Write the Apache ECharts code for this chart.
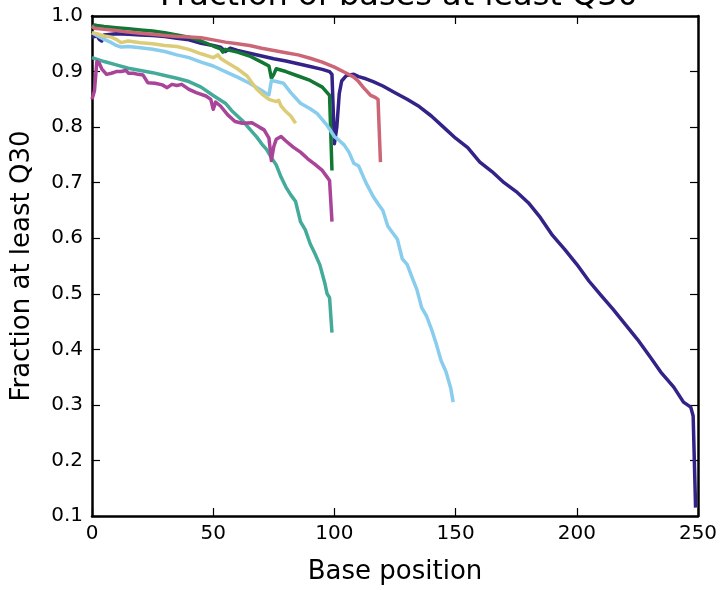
<!DOCTYPE html>
<html>
<head>
<meta charset="utf-8">
<script src="https://cdn.jsdelivr.net/npm/echarts@6/dist/echarts.min.js"></script>
<style>html,body{margin:0;padding:0;background:#fff}#c{width:722px;height:590px}</style>
</head>
<body>
<div id="c"></div>
<script>
const titleText = "Fraction of bases at least Q30";
const xName = "Base position";
const yName = "Fraction at least Q30";
const xTicks = [0, 50, 100, 150, 200, 250];
const yTicks = [0.1, 0.2, 0.3, 0.4, 0.5, 0.6, 0.7, 0.8, 0.9, 1.0];

const indigoX = [0,1,2,3,4,5,10,15,20,25,30,35,40,45,50,53,55,57,60,65,70,75,80,85,90,95,98,99,100,101,102,103,105,108,110,113,116,120,125,130,135,140,145,150,155,160,165,170,175,180,185,190,195,200,205,210,215,220,225,230,235,240,244,247,248,249];
const indigoY = [0.962,0.963,0.965,0.958,0.955,0.966,0.968,0.967,0.966,0.965,0.963,0.96,0.957,0.951,0.947,0.944,0.936,0.942,0.938,0.933,0.928,0.923,0.919,0.914,0.909,0.904,0.9,0.895,0.77,0.8,0.86,0.883,0.893,0.895,0.891,0.887,0.882,0.874,0.862,0.85,0.837,0.82,0.8,0.78,0.763,0.737,0.72,0.7,0.684,0.664,0.637,0.605,0.58,0.553,0.523,0.497,0.472,0.445,0.418,0.388,0.357,0.332,0.305,0.296,0.28,0.115];

const greenX = [0,1,2,5,10,15,20,25,30,35,40,45,50,53,54,55,60,65,70,73,74,75,76,80,85,90,95,97,98,99];
const greenY = [0.978,0.984,0.983,0.981,0.979,0.977,0.975,0.973,0.97,0.966,0.962,0.955,0.946,0.941,0.935,0.94,0.935,0.928,0.917,0.91,0.888,0.895,0.905,0.9,0.892,0.884,0.872,0.862,0.857,0.722];

const tealX = [0,5,10,15,20,25,30,35,40,45,50,55,58,60,62,65,68,70,72,74,76,78,80,82,84,86,88,90,92,94,96,97,98,99];
const tealY = [0.925,0.918,0.912,0.906,0.902,0.898,0.893,0.888,0.882,0.872,0.857,0.843,0.828,0.82,0.812,0.797,0.782,0.77,0.76,0.745,0.732,0.71,0.692,0.678,0.666,0.63,0.615,0.59,0.572,0.552,0.52,0.5,0.493,0.43];

const cyanX = [0,2,5,8,10,12,15,20,25,30,35,40,45,50,55,60,65,70,72,73,74,76,79,82,86,90,93,97,100,102,104,106,108,110,113,116,118,120,122,124,126,128,130,132,134,136,138,140,142,144,146,148,149];
const cyanY = [0.97,0.965,0.958,0.952,0.947,0.944,0.945,0.943,0.94,0.936,0.93,0.925,0.917,0.91,0.9,0.89,0.879,0.866,0.86,0.858,0.884,0.882,0.879,0.862,0.843,0.833,0.824,0.803,0.783,0.776,0.768,0.755,0.735,0.73,0.7,0.675,0.662,0.65,0.622,0.61,0.598,0.563,0.553,0.53,0.508,0.475,0.46,0.437,0.41,0.38,0.36,0.33,0.305];

const sandX = [0,2,5,8,10,12,15,20,25,30,35,40,45,50,52,53,55,60,64,66,68,70,73,76,77,78,80,82,84];
const sandY = [0.97,0.968,0.964,0.962,0.958,0.952,0.955,0.952,0.95,0.947,0.945,0.94,0.932,0.925,0.93,0.924,0.918,0.905,0.892,0.88,0.868,0.86,0.85,0.846,0.848,0.838,0.828,0.82,0.807];

const roseX = [0,1,5,10,15,20,25,30,35,40,45,50,55,60,65,70,75,80,85,90,95,100,105,108,110,112,115,117,118,119];
const roseY = [0.982,0.978,0.976,0.974,0.971,0.969,0.967,0.965,0.963,0.962,0.961,0.957,0.953,0.95,0.947,0.942,0.938,0.934,0.93,0.924,0.917,0.908,0.897,0.89,0.882,0.871,0.857,0.853,0.85,0.737];

const purpleX = [0,1,2,3,4,6,8,10,12,14,15,17,19,21,23,26,29,31,33,35,37,40,43,47,49,50,51,53,56,59,62,66,69,71,73,74,75,76,78,80,83,86,89,92,95,97,98,99];
const purpleY = [0.85,0.865,0.918,0.915,0.905,0.895,0.897,0.9,0.9,0.902,0.897,0.897,0.895,0.894,0.88,0.879,0.876,0.871,0.877,0.875,0.877,0.868,0.862,0.856,0.85,0.832,0.845,0.838,0.822,0.81,0.807,0.808,0.8,0.795,0.78,0.74,0.765,0.778,0.783,0.775,0.764,0.755,0.743,0.733,0.722,0.71,0.704,0.63];

const seriesDefs = [
  {name: "indigo", x: indigoX, y: indigoY, color: "#332288"},
  {name: "green", x: greenX, y: greenY, color: "#117733"},
  {name: "teal", x: tealX, y: tealY, color: "#44AA99"},
  {name: "cyan", x: cyanX, y: cyanY, color: "#88CCEE"},
  {name: "sand", x: sandX, y: sandY, color: "#DDCC77"},
  {name: "rose", x: roseX, y: roseY, color: "#CC6677"},
  {name: "purple", x: purpleX, y: purpleY, color: "#AA4499"}
];

const FONT = "DejaVu Sans";
const chart = echarts.init(document.getElementById("c"), null, {renderer: "canvas"});

const axisCommon = {
  axisLine: {show: true, onZero: false, lineStyle: {color: "#000", width: 2.5}},
  axisTick: {show: true, inside: true, length: 8, lineStyle: {color: "#000", width: 1.2}},
  splitLine: {show: false}
};

chart.setOption({
  animation: false,
  backgroundColor: "#fff",
  title: {
    text: titleText, left: 394, textAlign: "center", top: -24,
    textStyle: {fontFamily: FONT, fontSize: 32, fontWeight: "normal", color: "#000"}
  },
  grid: {left: 92, right: 24, top: 16, bottom: 70, containLabel: false},
  xAxis: [
    Object.assign({}, axisCommon, {
      type: "value", min: xTicks[0], max: xTicks[xTicks.length - 1], interval: 50, position: "bottom",
      name: xName, nameLocation: "middle", nameGap: 43,
      nameTextStyle: {fontFamily: FONT, fontSize: 26, color: "#000"},
      axisLabel: {fontFamily: FONT, fontSize: 20, color: "#000", margin: 8}
    }),
    Object.assign({}, axisCommon, {
      type: "value", min: xTicks[0], max: xTicks[xTicks.length - 1], interval: 50, position: "top",
      axisLabel: {show: false}
    })
  ],
  yAxis: [
    Object.assign({}, axisCommon, {
      type: "value", min: yTicks[0], max: yTicks[yTicks.length - 1], interval: 0.1, position: "left",
      name: yName, nameLocation: "middle", nameGap: 57, nameRotate: 90,
      nameTextStyle: {fontFamily: FONT, fontSize: 26, color: "#000"},
      axisLabel: {fontFamily: FONT, fontSize: 20, color: "#000", margin: 9, formatter: v => v.toFixed(1)}
    }),
    Object.assign({}, axisCommon, {
      type: "value", min: yTicks[0], max: yTicks[yTicks.length - 1], interval: 0.1, position: "right",
      axisLabel: {show: false}
    })
  ],
  series: seriesDefs.map(s => ({
    name: s.name, type: "line", xAxisIndex: 0, yAxisIndex: 0,
    data: s.x.map((xv, i) => [xv, s.y[i]]),
    showSymbol: false, symbol: "none", clip: true,
    lineStyle: {color: s.color, width: 3.5, join: "round"},
    itemStyle: {color: s.color}
  }))
});
</script>
</body>
</html>
